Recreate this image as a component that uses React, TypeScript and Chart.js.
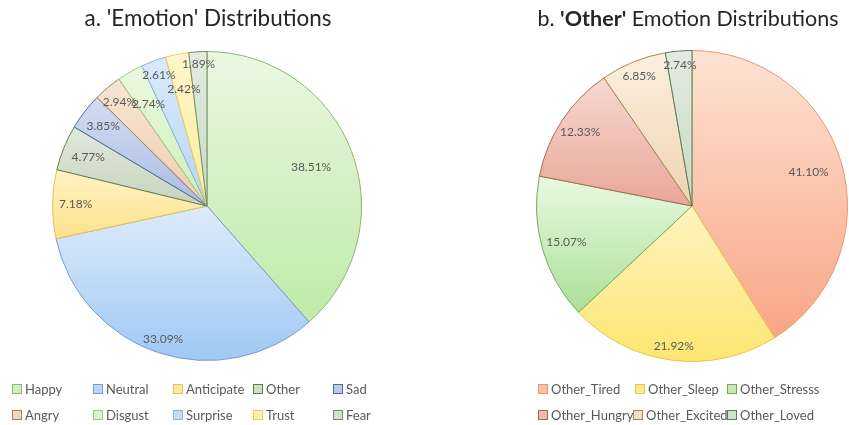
import React, { useEffect, useRef } from 'react';
import { Chart, registerables } from 'chart.js';
Chart.register(...registerables);

// ---------- data ----------
const emotionLabels = ['Happy', 'Neutral', 'Anticipate', 'Other', 'Sad', 'Angry', 'Disgust', 'Surprise', 'Trust', 'Fear'];
const emotionValues = [38.51, 33.09, 7.18, 4.77, 3.85, 2.94, 2.74, 2.61, 2.42, 1.89];

const otherLabels = ['Other_Tired', 'Other_Sleep', 'Other_Stresss', 'Other_Hungry', 'Other_Excited', 'Other_Loved'];
const otherValues = [41.10, 21.92, 15.07, 12.33, 6.85, 2.74];

// ---------- styles ----------
const emotionTop = ['#eaf7e2', '#deebfa', '#fff3c6', '#e2e9dc', '#d3ddf1', '#f8e5d4', '#ebf9e0', '#dbeafb', '#fff7cc', '#e3ebe0'];
const emotionBottom = ['#bfeaa8', '#9fc8f3', '#fde28a', '#c6d4bc', '#a9bce3', '#f0cdb0', '#cdf0b8', '#b6d6f6', '#ffeb99', '#c9d8c4'];
const emotionBorder = ['#8cb86e', '#7a9ccc', '#e6c35a', '#5f7d52', '#4e6b9e', '#a3845a', '#9ccc82', '#88b2e0', '#eccf5a', '#6e8f64'];
const emotionLabelRadius = [0.72, 0.91, 0.85, 0.83, 0.85, 0.88, 0.76, 0.9, 0.77, 0.92];
const emotionLegendCols = [[12, 93, 173, 253, 333], [12, 93, 173, 253, 333]];

const otherTop = ['#fde3d4', '#fff3c0', '#e9f9e1', '#f6d9d2', '#fcefe0', '#e2ece0'];
const otherBottom = ['#f9a585', '#fde672', '#acdf98', '#e9a699', '#efd3b3', '#c8d9c4'];
const otherBorder = ['#e59a72', '#e3c84a', '#73a95c', '#a86a4c', '#a48a4a', '#587e4e'];
const otherLabelRadius = [0.78, 0.91, 0.84, 0.86, 0.9, 0.91];
const otherLegendCols = [[113, 210, 302], [113, 208, 302]];

const FONT = 'Lato, "Liberation Sans", sans-serif';
const TEXT = '#595959';

type Run = { text: string; bold?: boolean };

interface PieSpec {
  labels: string[];
  values: number[];
  top: string[];
  bottom: string[];
  border: string[];
  labelRadius: number[];
  legendCols: number[][];
  title: Run[];
  titleX: number;
  titleWidth: number;
  padding: { left: number; right: number; top: number; bottom: number };
}

function sliceGradient(ctx: any, spec: PieSpec) {
  const chart = ctx.chart;
  const i = ctx.dataIndex;
  const area = chart.chartArea;
  if (!area || i === undefined) return spec.top[i ?? 0];
  const cx = (area.left + area.right) / 2;
  const cy = (area.top + area.bottom) / 2;
  const R = Math.min(area.right - area.left, area.bottom - area.top) / 2;
  const total = spec.values.reduce((a, b) => a + b, 0);
  let start = 0;
  for (let k = 0; k < i; k++) start += spec.values[k];
  const a0 = (start / total) * 360;
  const a1 = ((start + spec.values[i]) / total) * 360;
  const ys = [cy, cy - R * Math.cos((a0 * Math.PI) / 180), cy - R * Math.cos((a1 * Math.PI) / 180)];
  if (a0 <= 0.0001 || a1 >= 359.999) ys.push(cy - R);
  if (a0 <= 180 && a1 >= 180) ys.push(cy + R);
  const y0 = Math.min(...ys);
  const y1 = Math.max(...ys);
  const g = chart.ctx.createLinearGradient(0, y0, 0, Math.max(y1, y0 + 1));
  g.addColorStop(0, spec.top[i]);
  g.addColorStop(1, spec.bottom[i]);
  return g;
}

function mixHex(a: string, b: string, t: number) {
  const pa = [1, 3, 5].map((p) => parseInt(a.slice(p, p + 2), 16));
  const pb = [1, 3, 5].map((p) => parseInt(b.slice(p, p + 2), 16));
  const c = pa.map((v, k) => Math.round(v + (pb[k] - v) * t));
  return `rgb(${c[0]},${c[1]},${c[2]})`;
}

function makeDecorPlugin(spec: PieSpec) {
  return {
    id: 'decor',
    afterDatasetsDraw(chart: any) {
      const ctx = chart.ctx;
      const meta = chart.getDatasetMeta(0);
      ctx.save();
      // percentage labels
      ctx.font = `12px ${FONT}`;
      ctx.fillStyle = TEXT;
      ctx.textAlign = 'center';
      ctx.textBaseline = 'middle';
      meta.data.forEach((arc: any, i: number) => {
        const p = arc.getProps(['x', 'y', 'startAngle', 'endAngle', 'outerRadius'], true);
        const mid = (p.startAngle + p.endAngle) / 2;
        const r = p.outerRadius * spec.labelRadius[i];
        ctx.fillText(spec.values[i].toFixed(2) + '%', p.x + Math.cos(mid) * r, p.y + Math.sin(mid) * r);
      });
      // title (scaled to the reference width)
      ctx.fillStyle = '#262626';
      ctx.textBaseline = 'middle';
      ctx.textAlign = 'left';
      const measure = (size: number) =>
        spec.title.map((run) => {
          ctx.font = `${run.bold ? 'bold ' : ''}${size}px ${FONT}`;
          return ctx.measureText(run.text).width;
        });
      const base = measure(20).reduce((a, b) => a + b, 0);
      const size = Math.min(24, Math.max(18, (20 * spec.titleWidth) / base));
      const widths = measure(size);
      const totalW = widths.reduce((a, b) => a + b, 0);
      let x = spec.titleX - totalW / 2;
      spec.title.forEach((run, k) => {
        ctx.font = `${run.bold ? 'bold ' : ''}${size}px ${FONT}`;
        ctx.fillText(run.text, x, 19);
        x += widths[k];
      });
      // legend
      const perRow = spec.legendCols[0].length;
      const rowY = [389, 415];
      ctx.font = `13px ${FONT}`;
      spec.labels.forEach((lab, i) => {
        const row = Math.floor(i / perRow);
        const col = i % perRow;
        const bx = spec.legendCols[row][col];
        const by = rowY[row];
        ctx.fillStyle = mixHex(spec.top[i], spec.bottom[i], 0.6);
        ctx.fillRect(bx + 0.5, by - 4.5, 9, 9);
        ctx.strokeStyle = spec.border[i];
        ctx.lineWidth = 1;
        ctx.strokeRect(bx + 0.5, by - 4.5, 9, 9);
        ctx.fillStyle = TEXT;
        ctx.textAlign = 'left';
        ctx.fillText(lab, bx + 13, by + 0.5);
      });
      ctx.restore();
    },
  };
}

function PieChart({ spec, left }: { spec: PieSpec; left: number }) {
  const ref = useRef<HTMLCanvasElement | null>(null);
  useEffect(() => {
    if (!ref.current) return;
    const chart = new Chart(ref.current, {
      type: 'pie',
      data: {
        labels: spec.labels,
        datasets: [
          {
            data: spec.values,
            backgroundColor: (ctx: any) => sliceGradient(ctx, spec),
            borderColor: spec.border,
            borderWidth: 1,
            hoverOffset: 0,
            offset: 0,
          },
        ],
      },
      options: {
        responsive: false,
        animation: false,
        devicePixelRatio: 1,
        layout: { padding: spec.padding },
        plugins: {
          legend: { display: false },
          title: { display: false },
          tooltip: { enabled: false },
        },
        events: [],
      },
      plugins: [makeDecorPlugin(spec)],
    } as any);
    return () => chart.destroy();
  }, [spec]);
  return (
    <canvas
      ref={ref}
      width={424}
      height={425}
      style={{ position: 'absolute', left, top: 0, width: 424, height: 425 }}
    />
  );
}

const leftSpec: PieSpec = {
  labels: emotionLabels,
  values: emotionValues,
  top: emotionTop,
  bottom: emotionBottom,
  border: emotionBorder,
  labelRadius: emotionLabelRadius,
  legendCols: emotionLegendCols,
  title: [{ text: "a. 'Emotion' Distributions" }],
  titleX: 208,
  titleWidth: 247,
  padding: { left: 52, right: 62, top: 50, bottom: 63 },
};

const rightSpec: PieSpec = {
  labels: otherLabels,
  values: otherValues,
  top: otherTop,
  bottom: otherBottom,
  border: otherBorder,
  labelRadius: otherLabelRadius,
  legendCols: otherLegendCols,
  title: [{ text: 'b. ' }, { text: "'Other'", bold: true }, { text: ' Emotion Distributions' }],
  titleX: 263,
  titleWidth: 301,
  padding: { left: 111, right: 1, top: 50, bottom: 63 },
};

export default function App() {
  return (
    <div style={{ position: 'absolute', left: 0, top: 0, width: 849, height: 425, background: '#ffffff' }}>
      <PieChart spec={leftSpec} left={0} />
      <PieChart spec={rightSpec} left={425} />
    </div>
  );
}
